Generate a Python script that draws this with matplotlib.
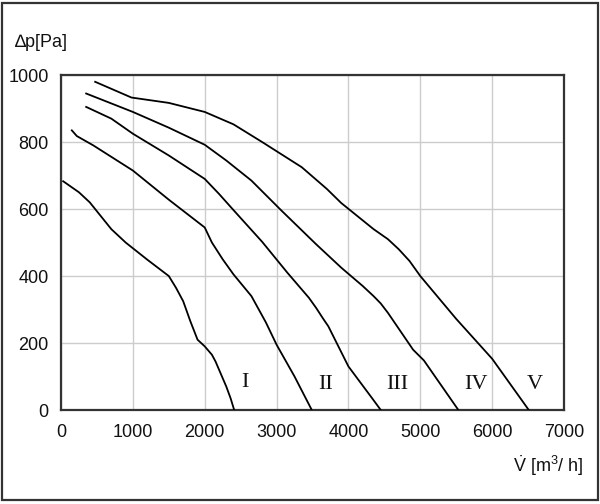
import matplotlib
matplotlib.use("Agg")
import matplotlib.pyplot as plt
from matplotlib.patches import Rectangle

# Fan curves (flow V [m3/h], pressure dp [Pa])
curve_I_x = [30, 250, 400, 550, 700, 900, 1200, 1500, 1600, 1700, 1800, 1900, 2000, 2100, 2150, 2230, 2300, 2360, 2410]
curve_I_y = [683, 650, 620, 580, 540, 500, 449, 400, 365, 325, 265, 210, 190, 165, 145, 105, 70, 35, 0]

curve_II_x = [150, 220, 450, 1000, 1500, 2000, 2100, 2250, 2400, 2650, 2850, 3000, 3250, 3490]
curve_II_y = [835, 818, 790, 715, 628, 545, 500, 450, 405, 340, 262, 195, 100, 0]

curve_III_x = [350, 700, 1000, 1500, 2000, 2200, 2400, 2800, 3150, 3450, 3550, 3650, 3720, 4000, 4330, 4450]
curve_III_y = [905, 870, 825, 760, 690, 645, 597, 502, 410, 335, 305, 272, 250, 130, 35, 0]

curve_IV_x = [350, 1000, 1500, 2000, 2300, 2650, 3070, 3550, 3900, 4200, 4350, 4450, 4550, 4900, 5050, 5530]
curve_IV_y = [945, 890, 843, 792, 745, 685, 595, 495, 425, 370, 340, 318, 290, 180, 148, 0]

curve_V_x = [475, 980, 1500, 2000, 2400, 2800, 3350, 3700, 3900, 4350, 4550, 4700, 4850, 5000, 5500, 6000, 6510]
curve_V_y = [980, 933, 917, 890, 853, 800, 725, 660, 618, 540, 510, 480, 445, 400, 272, 153, 0]

curve_labels = ["I", "II", "III", "IV", "V"]
label_x = [2560, 3680, 4680, 5780, 6600]
label_y = [55, 48, 48, 48, 48]

x_ticks = [0, 1000, 2000, 3000, 4000, 5000, 6000, 7000]
y_ticks = [0, 200, 400, 600, 800, 1000]

plt.rcParams['font.family'] = ['Liberation Sans', 'DejaVu Sans']
plt.rcParams['mathtext.fontset'] = 'custom'
plt.rcParams['mathtext.rm'] = 'Liberation Sans'
plt.rcParams['mathtext.it'] = 'Liberation Sans'

fig = plt.figure(figsize=(6.0, 5.04), dpi=100)
ax = fig.add_axes([0.1017, 0.1865, 0.8383, 0.6645])

curves = [(curve_I_x, curve_I_y), (curve_II_x, curve_II_y), (curve_III_x, curve_III_y),
          (curve_IV_x, curve_IV_y), (curve_V_x, curve_V_y)]
for cx, cy in curves:
    ax.plot(cx, cy, color='black', lw=1.3, solid_joinstyle='round', zorder=3)

for lab, lx, ly in zip(curve_labels, label_x, label_y):
    ax.text(lx, ly, lab, family=['Liberation Serif', 'DejaVu Serif'], fontsize=16,
            ha='center', va='bottom', color='#111111', zorder=4)

ax.set_xlim(0, 7000)
ax.set_ylim(0, 1000)
ax.set_xticks(x_ticks)
ax.set_yticks(y_ticks)
ax.grid(True, color='#cccccc', lw=1.0, zorder=0)
ax.set_axisbelow(True)
ax.tick_params(axis='both', length=0, labelsize=13, colors='#111111')
ax.tick_params(axis='x', pad=10)
ax.tick_params(axis='y', pad=9)
for s in ax.spines.values():
    s.set_color('#333333')
    s.set_linewidth(1.6)

fig.text(0.025, 0.916, "\u2206p[Pa]", fontsize=13, ha='left', va='center', color='#111111')
fig.text(0.972, 0.076, r"$\dot{\mathrm{V}}$ [m$^{\mathrm{3}}$/ h]", fontsize=13,
         ha='right', va='center', color='#111111')

fig.patches.append(Rectangle((0.004, 0.008), 0.992, 0.986, transform=fig.transFigure,
                             fill=False, edgecolor='#333333', lw=1.6))

fig.savefig("out.png", dpi=100)
